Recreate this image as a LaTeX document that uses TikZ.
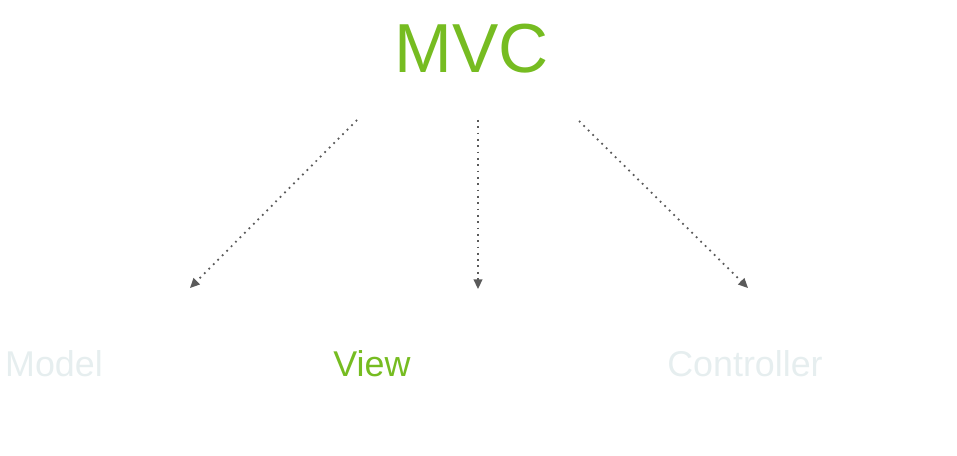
\documentclass[tikz,border=0pt]{standalone}
\usepackage{fontspec}
\setmainfont{Liberation Sans}
\usepackage{tikz}
\usetikzlibrary{arrows.meta, positioning}
\definecolor{mvcGreen}{HTML}{76BC21}
\definecolor{fadeColor}{HTML}{E6EEEF}
\definecolor{arrowColor}{HTML}{5A5A5A}
\tikzstyle{arrow} = [draw=arrowColor, line width=1pt, dash pattern=on 1pt off 2.6pt, -{Triangle[length=5.5pt,width=5pt]}]

\begin{document}
\begin{tikzpicture}[
    x=0.02cm, y=-0.02cm,
    title/.style={inner sep=0pt, anchor=base, text=mvcGreen, font=\fontsize{39.5}{40}\selectfont},
    part/.style={inner sep=0pt, anchor=base, text=fadeColor, font=\fontsize{20.4}{21}\selectfont},
    active/.style={part, text=mvcGreen}
]
\useasboundingbox (0,0) rectangle (957,456);

% Root
\node[title] (mvc) at (472,73) {MVC};

% Level 1
\node[part] (model) at (54,376) {Model};
\node[active] (view) at (372,376) {View};
\node[part] (controller) at (745,376) {Controller};

% Arrow ends
\coordinate (s1) at (357,120);
\coordinate (s2) at (478,120);
\coordinate (s3) at (579,121);
\coordinate (e1) at (190,288);
\coordinate (e2) at (478,289);
\coordinate (e3) at (748,288);

% Draw lines
\draw[arrow] (s1) -- (e1);
\draw[arrow] (s2) -- (e2);
\draw[arrow] (s3) -- (e3);
\end{tikzpicture}
\end{document}
